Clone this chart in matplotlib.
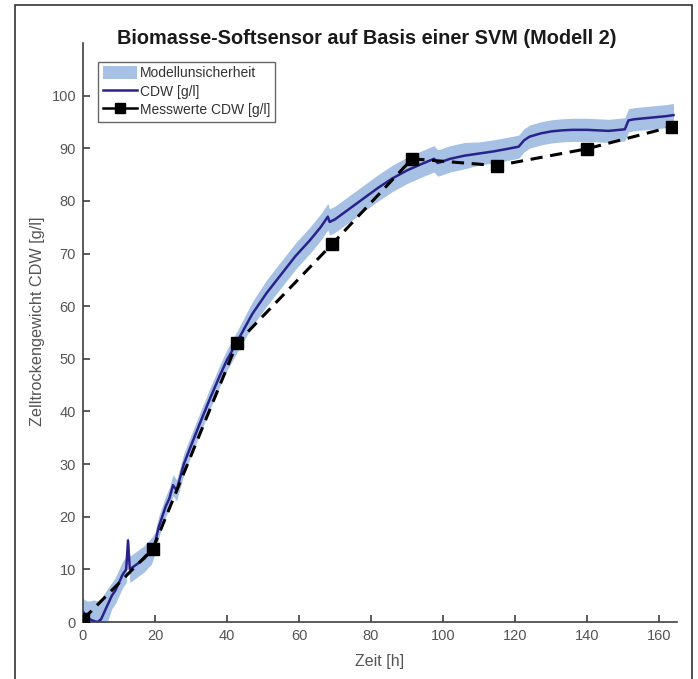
import numpy as np
import matplotlib.pyplot as plt
from matplotlib.patches import Rectangle, Patch
from matplotlib.lines import Line2D

plt.rcParams["font.family"] = ["Liberation Sans", "DejaVu Sans"]

# =========================
# Data
# =========================
# soft sensor output CDW [g/l]
zeit_model = [0, 1, 2, 3, 4, 5, 6, 7, 8, 9, 10, 11, 12, 12.5, 13, 14, 15,
              17, 19, 20, 21, 22, 23, 24, 25, 26, 28, 30, 32.5, 35, 38, 40,
              43, 47, 51, 55, 59, 63, 66, 68, 68.5, 70, 74, 78, 82, 86, 90,
              94, 97.5, 98.5, 99.5, 102, 106, 110, 114, 118, 121, 122.5, 124,
              127, 130, 133, 136, 140, 143, 146, 149, 150.5, 151.5, 153, 156,
              159, 162, 164]
cdw_model = [2, 1, 0.5, 0.2, 0, 0.5, 2, 3.5, 5, 6, 7.5, 9, 10, 15.5, 10,
             10.5, 11, 12, 13.5, 15, 18, 20, 22, 23.5, 26, 25, 30, 33.5, 37.8,
             42, 46.8, 49.8, 53.5, 58.5, 62.5, 66, 69.5, 72.5, 75, 77, 76,
             76.5, 78.5, 80.5, 82.5, 84.3, 85.8, 87, 88, 87.2, 87.4, 88,
             88.6, 89, 89.4, 89.9, 90.3, 91.5, 92.2, 92.8, 93.2, 93.4, 93.5,
             93.5, 93.4, 93.3, 93.5, 93.6, 95.3, 95.5, 95.7, 95.9, 96.1, 96.3]
# half width of the uncertainty band
band_halfwidth = [2.5, 3, 3.5, 4, 4, 4, 3.5, 3, 2.5, 2.5, 2.5, 2.5, 2.5, 1,
                  2.5, 2.5, 2.5, 2.5, 2.5, 2, 2, 2, 2, 2, 2, 2, 2, 2, 2, 2,
                  2, 2, 2, 2.3, 2.5, 2.5, 2.5, 2.5, 2.5, 2.5, 2.5, 2.5, 2.5,
                  2.5, 2.5, 2.5, 2.5, 2.5, 2.5, 2.5, 2.5, 2.5, 2.5, 2.2, 2.2,
                  2.2, 2.2, 2.2, 2.2, 2.2, 2.2, 2.2, 2.2, 2.2, 2.2, 2.2, 2.2,
                  2.2, 2.2, 2.2, 2.2, 2.2, 2.2, 2.2]

# offline measurements CDW [g/l]
zeit_mess = [0, 19.4, 42.8, 69.2, 91.4, 115, 140, 163.6]
cdw_mess = [0.5, 13.9, 53, 71.8, 88, 86.7, 89.9, 94.1]

BAND_COLOR = "#a6c1e4"
LINE_COLOR = "#29228c"
AXIS_COLOR = "#404040"
TEXT_COLOR = "#555555"


def main():
    fig = plt.figure(figsize=(6.98, 6.79), dpi=100)
    ax = fig.add_axes([0.1189, 0.0839, 0.8511, 0.8528])

    x = np.array(zeit_model)
    y = np.array(cdw_model)
    w = np.array(band_halfwidth)

    ax.fill_between(x, y - w, y + w, color=BAND_COLOR, lw=0, zorder=1)
    ax.plot(x, y, color=LINE_COLOR, lw=1.8, zorder=2)
    ax.plot(zeit_mess, cdw_mess, color="black", ls=(0, (4, 2.5)), lw=2.2,
            marker="s", markersize=8, zorder=3)

    ax.set_xlim(0, 165)
    ax.set_ylim(0, 110)
    ax.set_xticks(np.arange(0, 161, 20))
    ax.set_yticks(np.arange(0, 101, 10))

    for side in ["top", "right"]:
        ax.spines[side].set_visible(False)
    for side in ["left", "bottom"]:
        ax.spines[side].set_color(AXIS_COLOR)
        ax.spines[side].set_linewidth(1.2)

    ax.tick_params(direction="in", length=5, width=1.2, color=AXIS_COLOR,
                   labelsize=10.5, labelcolor=TEXT_COLOR, pad=5)

    ax.set_xlabel("Zeit [h]", fontsize=11.5, color=TEXT_COLOR)
    ax.xaxis.set_label_coords(0.5, -0.055)
    ax.set_ylabel("Zelltrockengewicht CDW [g/l]", fontsize=11.7,
                  color=TEXT_COLOR)
    ax.yaxis.set_label_coords(-0.064, 0.52)

    # title sits partly below the top of the y axis, so place it on the figure
    fig.text(367 / 698, 1 - 44 / 679,
             "Biomasse-Softsensor auf Basis einer SVM (Modell 2)",
             fontsize=14.3, fontweight="bold", color="#1a1a1a",
             ha="center", va="baseline")

    handles = [
        Patch(facecolor=BAND_COLOR, edgecolor="none"),
        Line2D([], [], color=LINE_COLOR, lw=1.8),
        Line2D([], [], color="black", lw=1.8, marker="s", markersize=7),
    ]
    labels = ["Modellunsicherheit", "CDW [g/l]", "Messwerte CDW [g/l]"]
    leg = ax.legend(handles, labels, loc="upper left",
                    bbox_to_anchor=(0.025, 0.968), fontsize=10,
                    frameon=True, fancybox=False, handlelength=2.5,
                    handleheight=1.0, handletextpad=0.2, borderpad=0.35,
                    labelspacing=0.3, borderaxespad=0)
    leg.get_frame().set_edgecolor(AXIS_COLOR)
    leg.get_frame().set_linewidth(1.0)
    for t in leg.get_texts():
        t.set_color("#333333")

    # outer frame around the figure
    fig.patches.append(Rectangle((15 / 698, -0.05), 677 / 698,
                                 1.05 - 5 / 679, transform=fig.transFigure,
                                 fill=False, edgecolor="#333333", lw=1.2))

    fig.savefig("out.png", dpi=100)


if __name__ == "__main__":
    main()
